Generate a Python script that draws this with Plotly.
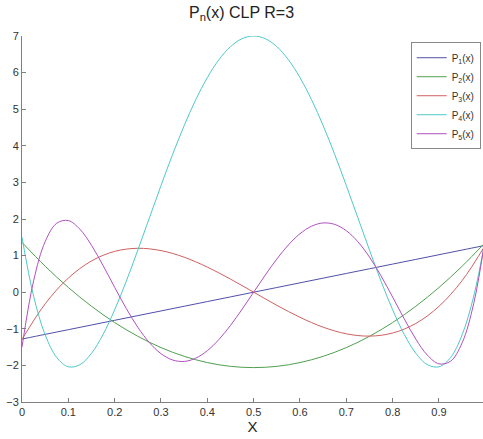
import plotly.graph_objects as go

# Sample positions
x_coarse = [0.0, 0.05, 0.1, 0.15, 0.2, 0.25, 0.3, 0.35, 0.4, 0.45, 0.5,
            0.55, 0.6, 0.65, 0.7, 0.75, 0.8, 0.85, 0.9, 0.95, 1.0]
x_fine = [0.0, 0.025, 0.05, 0.075, 0.1, 0.125, 0.15, 0.175, 0.2, 0.225, 0.25,
          0.275, 0.3, 0.325, 0.35, 0.375, 0.4, 0.425, 0.45, 0.475, 0.5,
          0.525, 0.55, 0.575, 0.6, 0.625, 0.65, 0.675, 0.7, 0.725, 0.75,
          0.775, 0.8, 0.825, 0.85, 0.875, 0.9, 0.925, 0.95, 0.975, 1.0]

p1 = [-1.28, -1.152, -1.024, -0.896, -0.768, -0.64, -0.512, -0.384, -0.256, -0.128, 0.0,
      0.128, 0.256, 0.384, 0.512, 0.64, 0.768, 0.896, 1.024, 1.152, 1.28]
p2 = [1.36, 0.710, 0.129, -0.384, -0.829, -1.205, -1.513, -1.752, -1.923, -2.026, -2.06,
      -2.026, -1.923, -1.752, -1.513, -1.205, -0.829, -0.384, 0.129, 0.710, 1.36]
p3 = [-1.288, -0.318, 0.386, 0.854, 1.115, 1.200, 1.137, 0.956, 0.686, 0.358, 0.0,
      -0.358, -0.686, -0.956, -1.137, -1.200, -1.115, -0.854, -0.386, 0.318, 1.288]
p4 = [1.50, -0.108, -1.163, -1.785, -2.038, -1.981, -1.669, -1.153, -0.482, 0.299, 1.150,
      2.032, 2.913, 3.762, 4.551, 5.259, 5.864, 6.352, 6.709, 6.927, 7.0,
      6.927, 6.709, 6.352, 5.864, 5.259, 4.551, 3.762, 2.913, 2.032, 1.150,
      0.299, -0.482, -1.153, -1.669, -1.981, -2.038, -1.785, -1.163, -0.108, 1.444]
p5 = [-1.500, 0.308, 1.383, 1.885, 1.957, 1.721, 1.282, 0.728, 0.134, -0.444, -0.959,
      -1.378, -1.680, -1.852, -1.892, -1.803, -1.598, -1.292, -0.907, -0.467, 0.0,
      0.467, 0.907, 1.292, 1.598, 1.803, 1.892, 1.852, 1.680, 1.378, 0.959,
      0.444, -0.134, -0.728, -1.282, -1.721, -1.957, -1.885, -1.383, -0.308, 1.500]

names = ["P<sub>1</sub>(x)", "P<sub>2</sub>(x)", "P<sub>3</sub>(x)",
         "P<sub>4</sub>(x)", "P<sub>5</sub>(x)"]
colors = ["#5050a8", "#50a050", "#d06060", "#50c8c8", "#b050c0"]
series = [(x_coarse, p1), (x_coarse, p2), (x_coarse, p3), (x_fine, p4), (x_fine, p5)]

x_ticks = [0, 0.1, 0.2, 0.3, 0.4, 0.5, 0.6, 0.7, 0.8, 0.9]
x_tick_text = ["0", "0.1", "0.2", "0.3", "0.4", "0.5", "0.6", "0.7", "0.8", "0.9"]
y_ticks = [-3, -2, -1, 0, 1, 2, 3, 4, 5, 6, 7]

fig = go.Figure()
for (xs, ys), nm, c in zip(series, names, colors):
    fig.add_trace(go.Scatter(x=xs, y=ys, mode="lines", name=nm,
                             line=dict(color=c, width=1, shape="spline", smoothing=1.0)))

font_family = "Liberation Sans, Arial, sans-serif"
fig.update_layout(
    width=483, height=439,
    margin=dict(l=22, r=0, t=36, b=37),
    paper_bgcolor="white", plot_bgcolor="white",
    font=dict(family=font_family, size=11, color="#333333"),
    title=dict(text="P<sub>n</sub>(x) CLP R=3", x=0.5, xanchor="center",
               y=0.972, yanchor="middle", font=dict(size=16, color="#222222")),
    showlegend=True,
    legend=dict(x=0.995, xanchor="right", y=0.983, yanchor="top",
                bgcolor="white", bordercolor="#888888", borderwidth=1,
                font=dict(size=10, color="#333333"), itemwidth=30,
                tracegroupgap=0),
    xaxis=dict(range=[0, 0.995], tickvals=x_ticks, ticktext=x_tick_text,
               showgrid=False, zeroline=False, showline=True, linecolor="#808080",
               linewidth=1, ticks="inside", ticklen=4, tickcolor="#808080",
               automargin=False,
               title=dict(text="X", font=dict(size=15, color="#222222"), standoff=0)),
    yaxis=dict(range=[-3, 7], tickvals=y_ticks, showgrid=False, zeroline=False,
               showline=True, linecolor="#808080", linewidth=1, ticks="inside",
               ticklen=4, tickcolor="#808080", automargin=False),
)

fig.write_html("out.html", config={"displayModeBar": False},
               post_script="document.body.style.margin='0';")
